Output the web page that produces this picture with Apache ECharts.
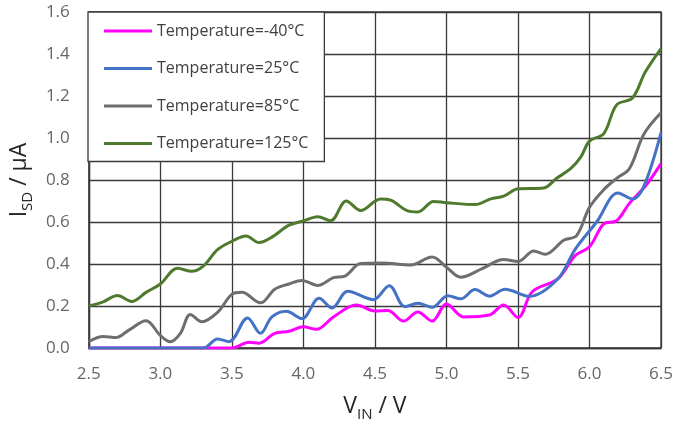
<!DOCTYPE html>
<html>
<head>
<meta charset="utf-8">
<script src="https://cdn.jsdelivr.net/npm/echarts@6/dist/echarts.min.js"></script>
<style>
html,body{margin:0;padding:0;background:#fff;overflow:hidden;}
#chart{width:690px;height:427px;}
</style>
</head>
<body>
<div id="chart"></div>
<script>
// Data: [V_IN (V), I_SD (µA)]
const seriesNames = ['Temperature=-40°C', 'Temperature=25°C', 'Temperature=85°C', 'Temperature=125°C'];
const seriesColors = ['#FF00FF', '#4472C4', '#6E6E6E', '#4E7A2E'];

const tempM40 = [[2.5,0],[3.5,0],[3.62,0.027],[3.69,0.023],[3.8,0.07],[3.9,0.08],[4.0,0.101],[4.09,0.089],[4.21,0.148],[4.37,0.205],[4.5,0.176],[4.59,0.178],[4.7,0.128],[4.8,0.172],[4.9,0.128],[5.0,0.21],[5.12,0.148],[5.3,0.157],[5.4,0.205],[5.5,0.145],[5.6,0.268],[5.78,0.33],[5.9,0.44],[6.0,0.482],[6.1,0.591],[6.19,0.606],[6.28,0.69],[6.39,0.77],[6.5,0.878]];
const temp25 = [[2.5,0],[3.3,0],[3.4,0.043],[3.48,0.03],[3.61,0.143],[3.7,0.07],[3.78,0.148],[3.88,0.175],[3.99,0.14],[4.11,0.237],[4.2,0.19],[4.31,0.27],[4.49,0.23],[4.6,0.297],[4.71,0.197],[4.8,0.213],[4.9,0.194],[5.01,0.249],[5.1,0.234],[5.2,0.278],[5.3,0.247],[5.41,0.28],[5.58,0.246],[5.78,0.33],[5.9,0.47],[6.05,0.6],[6.2,0.738],[6.3,0.71],[6.38,0.77],[6.5,1.026]];
const temp85 = [[2.5,0.03],[2.6,0.055],[2.69,0.05],[2.78,0.085],[2.9,0.13],[3.0,0.06],[3.07,0.03],[3.14,0.07],[3.21,0.16],[3.29,0.125],[3.4,0.17],[3.5,0.255],[3.57,0.265],[3.7,0.215],[3.8,0.28],[3.9,0.305],[3.99,0.322],[4.1,0.298],[4.21,0.335],[4.29,0.342],[4.4,0.402],[4.55,0.405],[4.75,0.395],[4.9,0.433],[5.0,0.385],[5.1,0.337],[5.25,0.378],[5.4,0.422],[5.5,0.412],[5.61,0.462],[5.69,0.446],[5.82,0.513],[5.91,0.535],[6.0,0.67],[6.1,0.754],[6.19,0.808],[6.28,0.855],[6.38,1.018],[6.5,1.12]];
const temp125 = [[2.5,0.2],[2.6,0.22],[2.7,0.25],[2.8,0.222],[2.9,0.265],[3.0,0.305],[3.12,0.38],[3.22,0.365],[3.3,0.39],[3.4,0.468],[3.5,0.508],[3.6,0.533],[3.69,0.502],[3.78,0.528],[3.9,0.585],[4.0,0.605],[4.1,0.625],[4.19,0.606],[4.3,0.7],[4.4,0.655],[4.54,0.71],[4.61,0.704],[4.73,0.653],[4.8,0.648],[4.91,0.698],[5.0,0.692],[5.2,0.683],[5.31,0.71],[5.4,0.723],[5.5,0.758],[5.68,0.762],[5.77,0.808],[5.87,0.855],[5.94,0.91],[6.0,0.985],[6.1,1.021],[6.19,1.158],[6.3,1.19],[6.39,1.314],[6.5,1.426]];
const seriesData = [tempM40, temp25, temp85, temp125];

const xMin = 2.5, xMax = 6.5, xStep = 0.5;
const yMin = 0, yMax = 1.6, yStep = 0.2;

const chart = echarts.init(document.getElementById('chart'), null, {renderer: 'canvas', width: 690, height: 427});
const gridColor = '#3A3A3A';
const fontFam = '"Open Sans", "DejaVu Sans", sans-serif';

chart.setOption({
  animation: false,
  backgroundColor: '#ffffff',
  grid: {left: 88, right: 29, top: 12, bottom: 72, containLabel: false,
         show: true, borderColor: gridColor, borderWidth: 1.3, backgroundColor: 'transparent'},
  legend: {
    orient: 'vertical', left: 88, top: 12,
    data: seriesNames,
    icon: 'rect', itemWidth: 48, itemHeight: 3, itemGap: 21.5,
    padding: [11, 16, 10, 16],
    backgroundColor: '#ffffff', borderColor: gridColor, borderWidth: 1.3,
    textStyle: {fontFamily: fontFam, fontSize: 16, color: '#404040', lineHeight: 16, padding: [0,0,0,0]},
    itemStyle: {borderWidth: 0}
  },
  xAxis: {
    type: 'value', min: xMin, max: xMax, interval: xStep,
    axisLine: {show: true, lineStyle: {color: gridColor, width: 1.3}},
    axisTick: {show: false},
    splitLine: {show: true, lineStyle: {color: gridColor, width: 1.3}},
    axisLabel: {fontFamily: fontFam, fontSize: 17, color: '#666666', margin: 18,
                formatter: v => v.toFixed(1)},
    name: '{a|V}{b|IN}{a| / V}', nameLocation: 'middle', nameGap: 42,
    nameTextStyle: {
      rich: {
        a: {fontFamily: fontFam, fontSize: 23, color: '#262626', lineHeight: 28, verticalAlign: 'bottom'},
        b: {fontFamily: fontFam, fontSize: 15, color: '#262626', lineHeight: 15, verticalAlign: 'bottom', padding: [0,0,-4,0]}
      }
    }
  },
  yAxis: {
    type: 'value', min: yMin, max: yMax, interval: yStep,
    axisLine: {show: true, lineStyle: {color: gridColor, width: 1.3}},
    axisTick: {show: false},
    splitLine: {show: true, lineStyle: {color: gridColor, width: 1.3}},
    axisLabel: {fontFamily: fontFam, fontSize: 17, color: '#666666', margin: 19,
                formatter: v => v.toFixed(1)},
    name: '{a|I}{b|SD}{a| / μA}', nameLocation: 'middle', nameRotate: 90, nameGap: 50,
    nameTextStyle: {
      rich: {
        a: {fontFamily: fontFam, fontSize: 23, color: '#262626', lineHeight: 28, verticalAlign: 'bottom'},
        b: {fontFamily: fontFam, fontSize: 15, color: '#262626', lineHeight: 15, verticalAlign: 'bottom', padding: [0,0,-4,0]}
      }
    }
  },
  series: seriesNames.map((name, i) => ({
    name: name,
    type: 'line',
    data: seriesData[i],
    smooth: 0.35,
    symbol: 'none',
    color: seriesColors[i],
    lineStyle: {width: 3, color: seriesColors[i]},
    z: 2 + i
  }))
});
</script>
</body>
</html>
